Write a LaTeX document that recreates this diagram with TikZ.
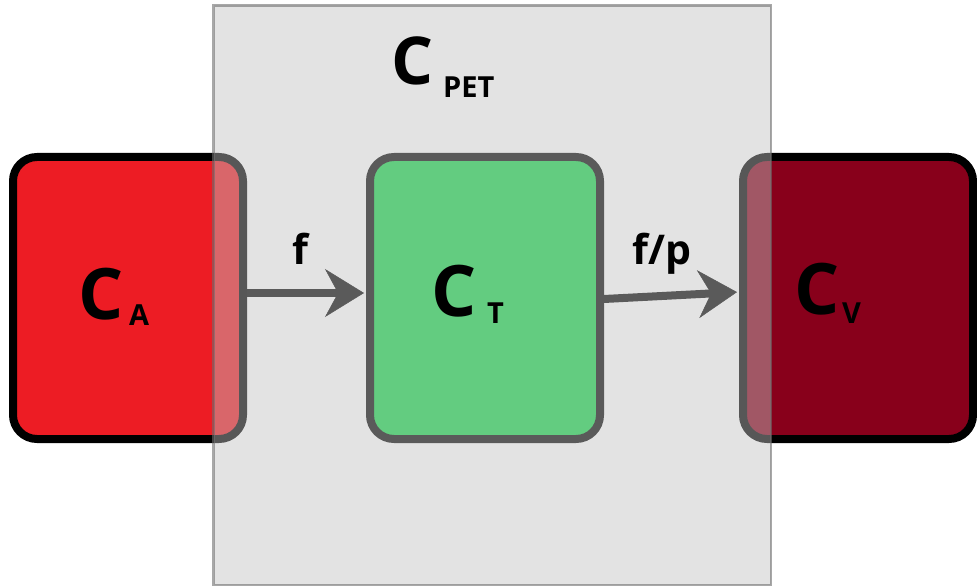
\documentclass[tikz,border=0pt]{standalone}
\usepackage{fontspec}
\setmainfont{Open Sans}
\usetikzlibrary{arrows.meta}
\definecolor{cred}{RGB}{237,28,36}
\definecolor{cdark}{RGB}{136,0,27}
\definecolor{cgreen}{RGB}{99,204,128}
\definecolor{cedge}{RGB}{90,90,90}
\definecolor{covl}{RGB}{193,193,193}
\definecolor{covledge}{RGB}{110,110,110}
\begin{document}
\begin{tikzpicture}[x=1pt,y=-1pt,
 boxnode/.style={rectangle,rounded corners=24pt,minimum width=230pt,minimum height=282pt,inner sep=0pt,line width=8pt},
 big/.style={inner sep=0pt,anchor=base west,font=\fontsize{71}{71}\selectfont\bfseries},
 bigpet/.style={inner sep=0pt,anchor=base west,font=\fontsize{66}{66}\selectfont\bfseries},
 sub/.style={inner sep=0pt,anchor=base west,font=\fontsize{29}{29}\selectfont\bfseries},
 lab/.style={inner sep=0pt,anchor=base west,font=\fontsize{41}{41}\selectfont\bfseries},
 conn/.style={draw=cedge,line width=8pt,-{Stealth[length=39pt,width=48pt,inset=13pt,line width=0.5pt]},shorten >=2pt}
]
\useasboundingbox (0,0) rectangle (977,588);
\node[boxnode,fill=cred,draw=black] (ca) at (128,298) {};
\node[boxnode,fill=cdark,draw=black] (cv) at (858,298) {};
\node[rectangle,inner sep=0pt,minimum width=557.5pt,minimum height=579.5pt,fill=covl,fill opacity=0.45,draw=covledge,draw opacity=0.6,line width=2.5pt] (pet) at (492.25,295.25) {};
\node[boxnode,fill=cgreen,draw=cedge] (ct) at (485,298) {};
\draw[conn] ([yshift=5pt]ca.east) -- ([yshift=5pt]ct.west);
\draw[conn] ([yshift=-1pt]ct.east) -- ([yshift=6pt]cv.west);
\node[bigpet] (cpetc) at (391,85) {C};
\node[sub] (cpets) at (443,98) {PET};
\node[big] (cac) at (78,319) {C};
\node[sub] (cas) at (129,325) {A};
\node[big] (ctc) at (431,316) {C};
\node[sub] (cts) at (487,323) {T};
\node[big] (cvc) at (794,314) {C};
\node[sub] (cvs) at (842,323) {V};
\node[lab] (lf) at (292,264) {f};
\node[lab] (lfp) at (632,264) {f/p};
\end{tikzpicture}
\end{document}
